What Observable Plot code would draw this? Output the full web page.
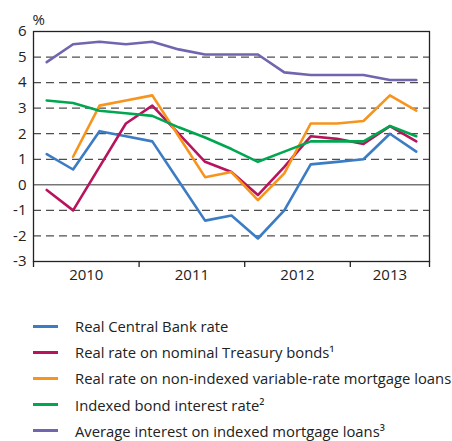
<!DOCTYPE html>
<html>
<head>
<meta charset="utf-8">
<script src="https://cdn.jsdelivr.net/npm/d3@7"></script>
<script src="https://cdn.jsdelivr.net/npm/@observablehq/plot@0.6"></script>
<style>
  html, body { margin: 0; padding: 0; background: #fff; }
  body { width: 452px; height: 441px; overflow: hidden; font-family: "Open Sans", sans-serif; }
  #legend { position: absolute; left: 33px; top: 313px; }
  .row { display: flex; align-items: center; height: 26.2px; font-size: 14.8px; line-height: 16px; color: #222; white-space: nowrap; }
  .sw { width: 25px; height: 3px; margin-right: 17px; }
</style>
</head>
<body>
<div id="chart"></div>
<div id="legend"></div>
<script>
// Quarterly observations, 2010 Q1 – 2013 Q3
const quarters = ["2010Q1","2010Q2","2010Q3","2010Q4","2011Q1","2011Q2","2011Q3","2011Q4",
                  "2012Q1","2012Q2","2012Q3","2012Q4","2013Q1","2013Q2","2013Q3"];
const years = ["2010", "2011", "2012", "2013"];
const yTicks = [-3, -2, -1, 0, 1, 2, 3, 4, 5, 6];

const seriesNames = [
  "Real Central Bank rate",
  "Real rate on nominal Treasury bonds¹",
  "Real rate on non-indexed variable-rate mortgage loans",
  "Indexed bond interest rate²",
  "Average interest on indexed mortgage loans³"
];
const seriesColors = ["#3b7cc4", "#b8145e", "#f7941d", "#00a650", "#7066b0"];

const centralBank = [1.2, 0.6, 2.1, 1.9, 1.7, 0.15, -1.4, -1.2, -2.1, -1.0, 0.8, 0.9, 1.0, 2.0, 1.3];
const treasury    = [-0.2, -1.0, 0.7, 2.4, 3.1, 2.0, 0.9, 0.5, -0.4, 0.7, 1.9, 1.8, 1.6, 2.3, 1.7];
const mortgageVar = [null, 1.1, 3.1, 3.3, 3.5, 1.9, 0.3, 0.5, -0.6, 0.45, 2.4, 2.4, 2.5, 3.5, 2.9];
const indexedBond = [3.3, 3.2, 2.9, 2.8, 2.7, 2.25, 1.85, 1.4, 0.9, 1.3, 1.7, 1.7, 1.7, 2.3, 1.9];
const indexedMort = [4.8, 5.5, 5.6, 5.5, 5.6, 5.3, 5.1, 5.1, 5.1, 4.4, 4.3, 4.3, 4.3, 4.1, 4.1];

const allSeries = [centralBank, treasury, mortgageVar, indexedBond, indexedMort];

// long table: quarter index -> position at the middle of the quarter
const rows = [];
allSeries.forEach((vals, s) => {
  vals.forEach((v, i) => {
    if (v !== null) rows.push({series: seriesNames[s], q: i + 0.5, value: v});
  });
});

// year boundaries & label positions derived from the quarter list
const yearStart = years.map(y => quarters.findIndex(q => q.startsWith(y)));
const yearEnd = years.map((y, k) => k < years.length - 1 ? yearStart[k + 1] : quarters.length);
const boundaries = [...yearStart, quarters.length];
const yearLabels = years.map((y, k) => ({year: y, x: (yearStart[k] + yearEnd[k]) / 2}));

const gridValues = yTicks.filter(v => v !== 0 && v !== yTicks[0] && v !== yTicks[yTicks.length - 1]);

const chart = Plot.plot({
  width: 452,
  height: 300,
  marginLeft: 33,
  marginRight: 23,
  marginTop: 31,
  marginBottom: 39,
  style: {fontFamily: "Open Sans, sans-serif", fontSize: "15px", color: "#222", background: "white"},
  x: {domain: [0, quarters.length], axis: null},
  y: {domain: [yTicks[0], yTicks[yTicks.length - 1]], axis: null},
  color: {domain: seriesNames, range: seriesColors},
  marks: [
    Plot.ruleY(gridValues, {stroke: "#222", strokeWidth: 1.3, strokeDasharray: "8,5", strokeOpacity: 0.8}),
    Plot.ruleY([0], {stroke: "#333", strokeWidth: 1}),
    Plot.lineY(rows, {x: "q", y: "value", z: "series", stroke: "series", strokeWidth: 2.6, curve: "linear"}),
    Plot.frame({stroke: "#222", strokeWidth: 1.3}),
    Plot.axisY(yTicks, {label: null, tickSize: 0, tickPadding: 7, fontSize: 15, tickFormat: d => d < 0 ? "-" + Math.abs(d) : String(d)}),
    Plot.axisX(boundaries, {label: null, tickSize: 6, tickPadding: 0, tickFormat: () => "", stroke: "#222", strokeWidth: 1.3}),
    Plot.text(yearLabels, {x: "x", text: "year", frameAnchor: "bottom", dy: 18, fontSize: 15, fill: "#222"}),
    Plot.text(["%"], {frameAnchor: "top-left", textAnchor: "start", lineAnchor: "bottom", dy: -7, dx: -1, fontSize: 15, fill: "#222"})
  ]
});
document.getElementById("chart").appendChild(chart);

const legend = document.getElementById("legend");
seriesNames.forEach((name, i) => {
  const row = document.createElement("div");
  row.className = "row";
  const sw = document.createElement("div");
  sw.className = "sw";
  sw.style.background = seriesColors[i];
  const t = document.createElement("span");
  t.textContent = name;
  row.appendChild(sw);
  row.appendChild(t);
  legend.appendChild(row);
});
</script>
</body>
</html>
